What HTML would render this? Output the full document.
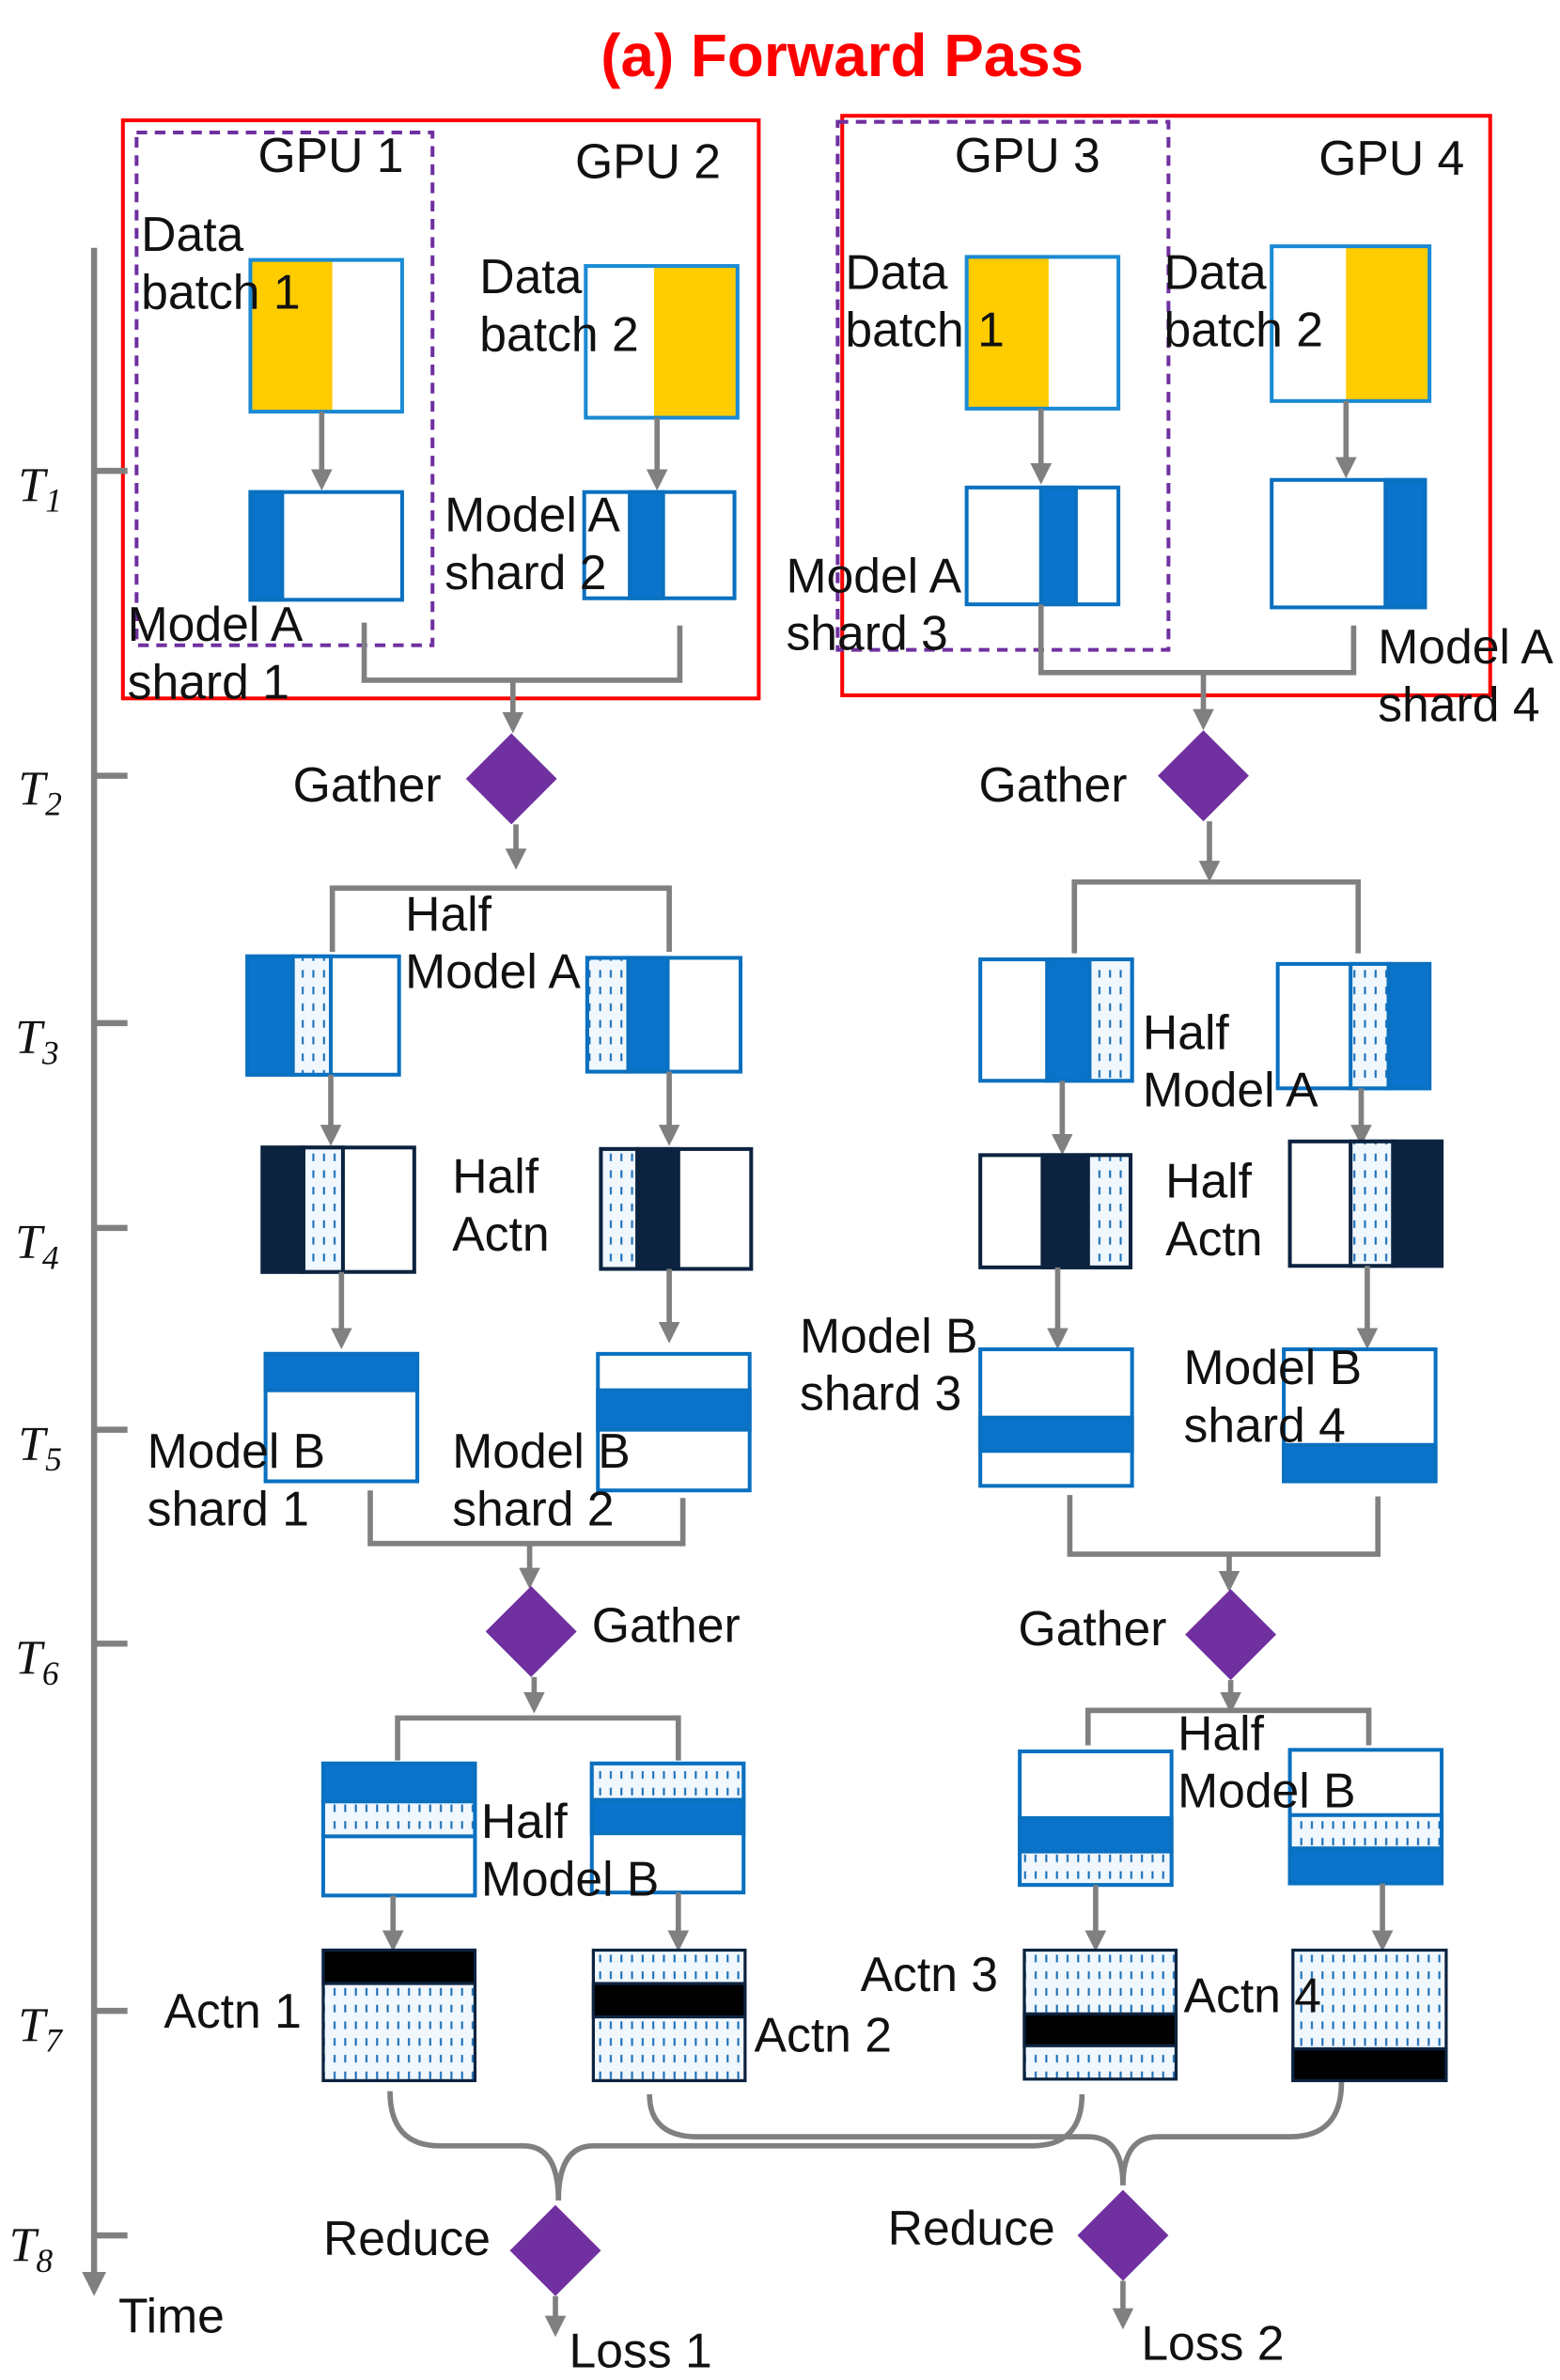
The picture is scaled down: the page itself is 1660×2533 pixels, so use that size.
<!DOCTYPE html>
<html><head><meta charset="utf-8"><style>
html,body{margin:0;padding:0;background:#fff}
svg{display:block}
text{font-family:"Liberation Sans",sans-serif;font-size:32px;fill:#111}
.t{font-family:"Liberation Serif",serif;font-style:italic;font-size:32px}
</style></head><body>
<svg width="1660" height="2533" viewBox="0 0 1028 1568" xmlns="http://www.w3.org/2000/svg">
<defs>
<pattern id="d" width="7" height="11" patternUnits="userSpaceOnUse">
<rect width="7" height="11" fill="#f0f7fd"/>
<line x1="3.5" y1="1" x2="3.5" y2="6" stroke="#1a6fb8" stroke-width="1.3"/>
</pattern>
<marker id="a" markerWidth="4" markerHeight="4" refX="2" refY="2" orient="auto" markerUnits="strokeWidth"><path d="M0,0L4,2L0,4z" fill="#808080"/></marker>
</defs>
<text x="555" y="50" text-anchor="middle" style="font-size:39.5px;font-weight:bold;fill:#ff0000">(a) Forward Pass</text>
<rect x="81" y="79" width="419" height="381" fill="none" stroke="#f00" stroke-width="2.5"/>
<rect x="555" y="76" width="427" height="382" fill="none" stroke="#f00" stroke-width="2.5"/>
<rect x="90" y="87" width="195" height="338" fill="none" stroke="#7030a0" stroke-width="2.5" stroke-dasharray="7,5"/>
<rect x="552" y="80" width="218" height="348" fill="none" stroke="#7030a0" stroke-width="2.5" stroke-dasharray="7,5"/>
<text x="218" y="113" text-anchor="middle">GPU 1</text>
<text x="427" y="117" text-anchor="middle">GPU 2</text>
<text x="677" y="113" text-anchor="middle">GPU 3</text>
<text x="917" y="115" text-anchor="middle">GPU 4</text>
<g stroke="#808080" stroke-width="4">
<line x1="62" y1="163" x2="62" y2="1505" marker-end="url(#a)"/>
<line x1="62" y1="310" x2="84" y2="310"/><line x1="62" y1="511" x2="84" y2="511"/>
<line x1="62" y1="674" x2="84" y2="674"/><line x1="62" y1="809" x2="84" y2="809"/>
<line x1="62" y1="942" x2="84" y2="942"/><line x1="62" y1="1083" x2="84" y2="1083"/>
<line x1="62" y1="1325" x2="84" y2="1325"/><line x1="62" y1="1473" x2="84" y2="1473"/>
</g>
<text class="t" x="12" y="330">T<tspan dy="7" style="font-size:22px">1</tspan></text>
<text class="t" x="12" y="530">T<tspan dy="7" style="font-size:22px">2</tspan></text>
<text class="t" x="10" y="694">T<tspan dy="7" style="font-size:22px">3</tspan></text>
<text class="t" x="10" y="829">T<tspan dy="7" style="font-size:22px">4</tspan></text>
<text class="t" x="12" y="962">T<tspan dy="7" style="font-size:22px">5</tspan></text>
<text class="t" x="10" y="1103">T<tspan dy="7" style="font-size:22px">6</tspan></text>
<text class="t" x="12" y="1345">T<tspan dy="7" style="font-size:22px">7</tspan></text>
<text class="t" x="6" y="1490">T<tspan dy="7" style="font-size:22px">8</tspan></text>
<text x="78" y="1537">Time</text>
<rect x="165" y="171" width="54" height="100" fill="#ffcc00"/>
<rect x="165" y="171" width="100" height="100" fill="none" stroke="#1a8ad4" stroke-width="2.5"/>
<rect x="431" y="175" width="55" height="100" fill="#ffcc00"/>
<rect x="386" y="175" width="100" height="100" fill="none" stroke="#1a8ad4" stroke-width="2.5"/>
<rect x="637" y="169" width="54" height="100" fill="#ffcc00"/>
<rect x="637" y="169" width="100" height="100" fill="none" stroke="#1a8ad4" stroke-width="2.5"/>
<rect x="887" y="162" width="55" height="102" fill="#ffcc00"/>
<rect x="838" y="162" width="104" height="102" fill="none" stroke="#1a8ad4" stroke-width="2.5"/>
<text x="93" y="165">Data</text><text x="93" y="203">batch 1</text>
<text x="316" y="193">Data</text><text x="316" y="231">batch 2</text>
<text x="557" y="190">Data</text><text x="557" y="228">batch 1</text>
<text x="767" y="190">Data</text><text x="767" y="228">batch 2</text>
<g stroke="#808080" stroke-width="3.5" fill="none">
<line x1="212" y1="271" x2="212" y2="316" marker-end="url(#a)"/>
<line x1="433" y1="275" x2="433" y2="316" marker-end="url(#a)"/>
<line x1="686" y1="269" x2="686" y2="312" marker-end="url(#a)"/>
<line x1="887" y1="264" x2="887" y2="308" marker-end="url(#a)"/>
</g>
<g stroke="#0a70c0" stroke-width="2.5">
<rect x="165" y="324" width="21" height="71" fill="#0a74cc"/>
<rect x="165" y="324" width="100" height="71" fill="none"/>
<rect x="415" y="324" width="22" height="70" fill="#0a74cc"/>
<rect x="385" y="324" width="99" height="70" fill="none"/>
<rect x="686" y="321" width="23" height="77" fill="#0a74cc"/>
<rect x="637" y="321" width="100" height="77" fill="none"/>
<rect x="913" y="316" width="26" height="84" fill="#0a74cc"/>
<rect x="838" y="316" width="101" height="84" fill="none"/>
</g>
<text x="84" y="422">Model A</text><text x="84" y="460">shard 1</text>
<text x="293" y="350">Model A</text><text x="293" y="388">shard 2</text>
<text x="518" y="390">Model A</text><text x="518" y="428">shard 3</text>
<text x="908" y="437">Model A</text><text x="908" y="475">shard 4</text>
<g stroke="#808080" stroke-width="3.5" fill="none">
<path d="M240,410V448H448V412"/><line x1="338" y1="448" x2="338" y2="476" marker-end="url(#a)"/>
<path d="M686,398V443H892V412"/><line x1="793" y1="443" x2="793" y2="474" marker-end="url(#a)"/>
<line x1="340" y1="543" x2="340" y2="566" marker-end="url(#a)"/>
<line x1="797" y1="541" x2="797" y2="574" marker-end="url(#a)"/>
<path d="M219,627V585H441V627"/>
<path d="M708,628V581H895V628"/>
</g>
<polygon points="337,483 367,513 337,543 307,513" fill="#7030a0"/>
<polygon points="793,481 823,511 793,541 763,511" fill="#7030a0"/>
<text x="193" y="528">Gather</text><text x="645" y="528">Gather</text>
<g stroke="#0a70c0" stroke-width="2.5">
<rect x="163" y="630" width="100" height="78" fill="#fff"/>
<rect x="163" y="630" width="30" height="78" fill="#0a74cc"/>
<rect x="193" y="630" width="25" height="78" fill="url(#d)"/>
<rect x="387" y="631" width="101" height="75" fill="#fff"/>
<rect x="387" y="631" width="27" height="75" fill="url(#d)"/>
<rect x="414" y="631" width="26" height="75" fill="#0a74cc"/>
<rect x="646" y="632" width="100" height="80" fill="#fff"/>
<rect x="690" y="632" width="28" height="80" fill="#0a74cc"/>
<rect x="718" y="632" width="28" height="80" fill="url(#d)"/>
<rect x="842" y="635" width="100" height="82" fill="#fff"/>
<rect x="890" y="635" width="25" height="82" fill="url(#d)"/>
<rect x="915" y="635" width="27" height="82" fill="#0a74cc"/>
</g>
<text x="267" y="613">Half</text><text x="267" y="651">Model A</text>
<text x="753" y="691">Half</text><text x="753" y="729">Model A</text>
<g stroke="#808080" stroke-width="3.5" fill="none">
<line x1="218" y1="708" x2="218" y2="748" marker-end="url(#a)"/>
<line x1="441" y1="706" x2="441" y2="748" marker-end="url(#a)"/>
<line x1="700" y1="712" x2="700" y2="754" marker-end="url(#a)"/>
<line x1="897" y1="717" x2="897" y2="748" marker-end="url(#a)"/>
</g>
<g stroke="#0c2340" stroke-width="2.5">
<rect x="173" y="756" width="100" height="82" fill="#fff"/>
<rect x="173" y="756" width="27" height="82" fill="#0c2340"/>
<rect x="200" y="756" width="26" height="82" fill="url(#d)"/>
<rect x="396" y="757" width="99" height="79" fill="#fff"/>
<rect x="396" y="757" width="24" height="79" fill="url(#d)"/>
<rect x="420" y="757" width="27" height="79" fill="#0c2340"/>
<rect x="646" y="761" width="99" height="74" fill="#fff"/>
<rect x="687" y="761" width="30" height="74" fill="#0c2340"/>
<rect x="717" y="761" width="28" height="74" fill="url(#d)"/>
<rect x="850" y="752" width="100" height="82" fill="#fff"/>
<rect x="890" y="752" width="28" height="82" fill="url(#d)"/>
<rect x="918" y="752" width="32" height="82" fill="#0c2340"/>
</g>
<text x="298" y="786">Half</text><text x="298" y="824">Actn</text>
<text x="768" y="789">Half</text><text x="768" y="827">Actn</text>
<g stroke="#808080" stroke-width="3.5" fill="none">
<line x1="225" y1="838" x2="225" y2="882" marker-end="url(#a)"/>
<line x1="441" y1="836" x2="441" y2="878" marker-end="url(#a)"/>
<line x1="697" y1="835" x2="697" y2="882" marker-end="url(#a)"/>
<line x1="901" y1="834" x2="901" y2="882" marker-end="url(#a)"/>
</g>
<g stroke="#0a70c0" stroke-width="2.5">
<rect x="175" y="892" width="100" height="84" fill="#fff"/>
<rect x="175" y="892" width="100" height="24" fill="#0a74cc"/>
<rect x="394" y="892" width="100" height="90" fill="#fff"/>
<rect x="394" y="916" width="100" height="26" fill="#0a74cc"/>
<rect x="646" y="889" width="100" height="90" fill="#fff"/>
<rect x="646" y="934" width="100" height="22" fill="#0a74cc"/>
<rect x="846" y="889" width="100" height="87" fill="#fff"/>
<rect x="846" y="952" width="100" height="24" fill="#0a74cc"/>
</g>
<text x="97" y="967">Model B</text><text x="97" y="1005">shard 1</text>
<text x="298" y="967">Model B</text><text x="298" y="1005">shard 2</text>
<text x="527" y="891">Model B</text><text x="527" y="929">shard 3</text>
<text x="780" y="912">Model B</text><text x="780" y="950">shard 4</text>
<g stroke="#808080" stroke-width="3.5" fill="none">
<path d="M244,982V1017H450V987"/><line x1="349" y1="1017" x2="349" y2="1040" marker-end="url(#a)"/>
<path d="M705,985V1024H908V986"/><line x1="810" y1="1024" x2="810" y2="1042" marker-end="url(#a)"/>
<line x1="352" y1="1105" x2="352" y2="1122" marker-end="url(#a)"/>
<line x1="811" y1="1107" x2="811" y2="1122" marker-end="url(#a)"/>
<path d="M262,1160V1132H447V1160"/>
<path d="M717,1150V1127H902V1150"/>
</g>
<polygon points="350,1045 380,1075 350,1105 320,1075" fill="#7030a0"/>
<polygon points="811,1047 841,1077 811,1107 781,1077" fill="#7030a0"/>
<text x="390" y="1082">Gather</text><text x="671" y="1084">Gather</text>
<g stroke="#0a70c0" stroke-width="2.5">
<rect x="213" y="1162" width="100" height="87" fill="#fff"/>
<rect x="213" y="1162" width="100" height="25" fill="#0a74cc"/>
<rect x="213" y="1187" width="100" height="23" fill="url(#d)"/>
<rect x="390" y="1162" width="100" height="85" fill="#fff"/>
<rect x="390" y="1162" width="100" height="24" fill="url(#d)"/>
<rect x="390" y="1186" width="100" height="22" fill="#0a74cc"/>
<rect x="672" y="1154" width="100" height="88" fill="#fff"/>
<rect x="672" y="1198" width="100" height="22" fill="#0a74cc"/>
<rect x="672" y="1220" width="100" height="22" fill="url(#d)"/>
<rect x="850" y="1153" width="100" height="88" fill="#fff"/>
<rect x="850" y="1196" width="100" height="22" fill="url(#d)"/>
<rect x="850" y="1218" width="100" height="23" fill="#0a74cc"/>
</g>
<text x="317" y="1211">Half</text><text x="317" y="1249">Model B</text>
<text x="776" y="1153">Half</text><text x="776" y="1191">Model B</text>
<g stroke="#808080" stroke-width="3.5" fill="none">
<line x1="259" y1="1249" x2="259" y2="1279" marker-end="url(#a)"/>
<line x1="447" y1="1247" x2="447" y2="1279" marker-end="url(#a)"/>
<line x1="722" y1="1242" x2="722" y2="1279" marker-end="url(#a)"/>
<line x1="911" y1="1241" x2="911" y2="1279" marker-end="url(#a)"/>
</g>
<g stroke="#0c2340" stroke-width="2">
<rect x="213" y="1285" width="100" height="86" fill="url(#d)"/>
<rect x="213" y="1285" width="100" height="22" fill="#000"/>
<rect x="391" y="1285" width="100" height="86" fill="url(#d)"/>
<rect x="391" y="1307" width="100" height="22" fill="#000"/>
<rect x="675" y="1285" width="100" height="85" fill="url(#d)"/>
<rect x="675" y="1327" width="100" height="21" fill="#000"/>
<rect x="852" y="1285" width="101" height="86" fill="url(#d)"/>
<rect x="852" y="1350" width="101" height="21" fill="#000"/>
</g>
<text x="108" y="1336">Actn 1</text><text x="497" y="1352">Actn 2</text>
<text x="567" y="1312">Actn 3</text><text x="780" y="1326">Actn 4</text>
<g stroke="#808080" stroke-width="3.5" fill="none">
<path d="M257,1378Q257,1414 290,1414H345Q368,1414 368,1450"/>
<path d="M713,1380Q713,1414 680,1414H391Q368,1414 368,1450"/>
<path d="M428,1380Q428,1408 460,1408H717Q740,1408 740,1440"/>
<path d="M884,1372Q884,1408 850,1408H763Q740,1408 740,1440"/>
<line x1="366" y1="1513" x2="366" y2="1533" marker-end="url(#a)"/>
<line x1="740" y1="1503" x2="740" y2="1528" marker-end="url(#a)"/>
</g>
<polygon points="366,1453 396,1483 366,1513 336,1483" fill="#7030a0"/>
<polygon points="740,1443 770,1473 740,1503 710,1473" fill="#7030a0"/>
<text x="213" y="1486">Reduce</text><text x="585" y="1479">Reduce</text>
<text x="375" y="1560">Loss 1</text><text x="752" y="1555">Loss 2</text>
</svg>
</body></html>
